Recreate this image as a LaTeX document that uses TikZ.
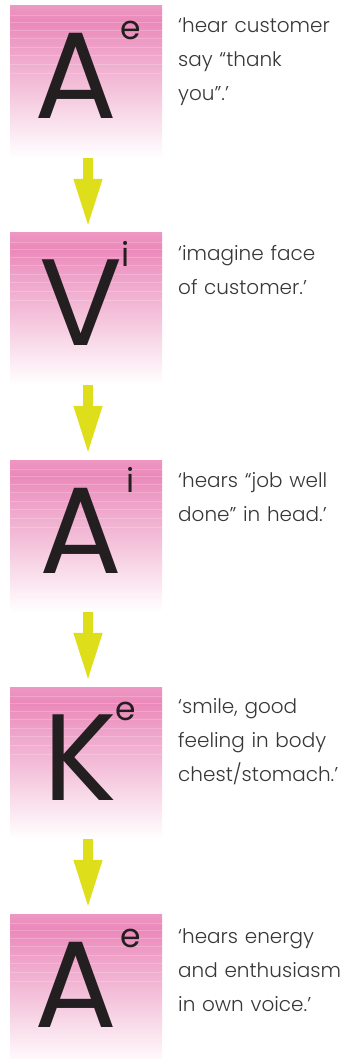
\documentclass[tikz,border=0pt]{standalone}
\usepackage{fontspec}
\IfFontExistsTF{Poppins Light}{\setmainfont{Poppins Light}}{\setmainfont{Poppins}}
\newfontfamily\letterfont{Poppins}
\usetikzlibrary{arrows.meta}
\definecolor{pinktop}{HTML}{EB89BA}
\definecolor{pinkedge}{HTML}{EE97C3}
\definecolor{pinkA}{HTML}{EFA4CA}
\definecolor{pinkB}{HTML}{F3BCD7}
\definecolor{pinkC}{HTML}{F8D8E7}
\definecolor{pinkD}{HTML}{FDF2F7}
\definecolor{arrowyellow}{HTML}{DEDE1A}
\definecolor{lettercol}{HTML}{231F20}
\definecolor{textcol}{HTML}{383838}
\pgfdeclareverticalshading{boxshade}{100bp}{%
  color(0bp)=(white); color(25bp)=(white); color(30bp)=(pinkD);
  color(40bp)=(pinkC); color(50bp)=(pinkB); color(60bp)=(pinkA);
  color(70bp)=(pinktop); color(75bp)=(pinkedge); color(100bp)=(pinkedge)}
\begin{document}
\begin{tikzpicture}[x=1pt,y=-1pt,
  boxnode/.style={rectangle, minimum width=152pt, minimum height=152pt, inner sep=0pt, shading=boxshade},
  band/.style={draw=white, draw opacity=0.2, line width=0.7pt},
  bigletter/.style={anchor=base, inner sep=0pt, text=lettercol, font=\letterfont\fontsize{123}{123}\selectfont},
  suplabel/.style={anchor=base west, inner sep=0pt, text=lettercol, font=\letterfont\fontsize{33}{33}\selectfont},
  quote/.style={anchor=base west, inner sep=0pt, text=textcol, align=left, text width=180pt,
    font=\fontsize{20}{34}\selectfont},
  flow/.style={draw=arrowyellow, line width=10pt, shorten >=5pt,
    -{Triangle[width=26pt,length=49pt]}}]
\useasboundingbox (0,0) rectangle (359,1059);

\foreach \n/\y in {1/82,2/309,3/536,4/763,5/990}{
  \node[boxnode] (b\n) at (86,\y) {};
  \foreach \d in {-67,-60,-52,-44,-35,-27,-18,-9}
    \draw[band] (10,\y+\d) -- (162,\y+\d);
}

\node[bigletter] (l1) at (75.5,119) {A};
\node[bigletter] (l2) at (81.5,345) {V};
\node[bigletter] (l3) at (81,573) {A};
\node[bigletter] (l4) at (80,800) {K};
\node[bigletter] (l5) at (75.5,1027) {A};

\node[suplabel] (s1) at (120,40) {e};
\node[suplabel] (s2) at (121,266) {i};
\node[suplabel] (s3) at (126,492) {i};
\node[suplabel] (s4) at (115,720) {e};
\node[suplabel] (s5) at (120,947) {e};

\node[quote] (q1) at (178,33) {‘hear customer\\say “thank\\you”.’};
\node[quote] (q2) at (178,260) {‘imagine face\\of customer.’};
\node[quote] (q3) at (178,487) {‘hears “job well\\done” in head.’};
\node[quote] (q4) at (178,713) {‘smile, good\\feeling in body\\chest/stomach.’};
\node[quote] (q5) at (178,943) {‘hears energy\\and enthusiasm\\in own voice.’};

\foreach \a/\b in {1/2,2/3,3/4,4/5}
  \draw[flow] ([xshift=2pt]b\a.south) -- ([xshift=2pt]b\b.north);
\end{tikzpicture}
\end{document}
